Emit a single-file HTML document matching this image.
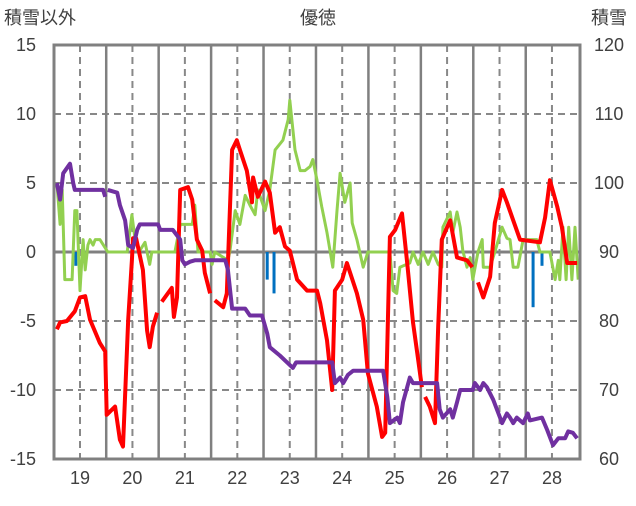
<!DOCTYPE html>
<html><head><meta charset="utf-8"><style>
body{margin:0;background:#fff;}
svg text{font-family:"Liberation Sans","Noto Sans CJK JP",sans-serif;fill:#404040;}
</style></head><body>
<svg id="c" width="636" height="501" xmlns="http://www.w3.org/2000/svg"></svg>
<script>
const xTicks=[19,20,21,22,23,24,25,26,27,28];
const leftTicks=[15,10,5,0,-5,-10,-15];
const rightTicks=[120,110,100,90,80,70,60];
const redT=[18.56,18.62,18.75,18.9,19.0,19.1,19.19,19.38,19.48,19.51,19.67,19.76,19.82,19.92,19.99,20.01,20.07,20.2,20.28,20.33,20.39,20.47,null,20.56,20.75,20.79,20.85,20.91,21.06,21.14,21.23,21.33,21.38,21.48,null,21.57,21.73,21.8,21.9,21.99,22.05,22.18,22.28,22.3,22.39,22.53,22.62,22.72,22.81,22.91,23.0,23.14,23.33,23.52,23.58,23.71,23.81,23.86,24.0,24.09,24.28,24.4,24.49,24.66,24.76,24.82,24.91,25.01,25.14,25.24,25.35,25.43,25.52,null,25.58,25.67,25.77,25.83,25.9,26.0,26.06,26.19,26.38,26.48,null,26.59,26.69,26.82,26.91,27.05,27.14,27.26,27.39,27.77,27.87,27.96,28.1,28.19,28.29,28.48];
const redV=[-5.6,-5.1,-5.0,-4.3,-3.3,-3.2,-4.9,-6.6,-7.2,-11.8,-11.2,-13.6,-14.1,-4.9,-0.6,1.0,1.0,-1.3,-5.7,-6.9,-5.4,-4.4,null,-3.6,-2.6,-4.7,-3.3,4.5,4.7,3.8,0.9,0.1,-1.5,-3.0,null,-3.5,-4.0,-3.0,7.4,8.1,7.4,5.9,3.6,5.4,4.0,5.1,4.3,1.4,1.8,0.4,0.1,-2.0,-2.8,-2.8,-3.7,-6.4,-10,-2.8,-2.0,-0.8,-3.0,-4.9,-8.8,-11.2,-13.4,-13.1,1.1,1.6,2.8,-0.8,-5.1,-7.3,-9.8,null,-10.5,-11.2,-12.4,-5.4,0.9,1.8,2.3,-0.4,-0.6,-1.1,null,-2.2,-3.3,-1.8,2.1,4.5,3.6,2.3,0.9,0.7,2.5,5.2,3.3,1.8,-0.8,-0.8];
const greenT=[18.56,18.62,18.66,18.71,18.85,18.9,18.94,19.0,19.06,19.1,19.15,19.19,19.25,19.29,19.38,19.53,19.9,19.99,20.05,20.14,20.24,20.33,20.37,20.81,20.91,21.14,21.19,21.25,21.48,21.52,21.57,21.82,21.86,21.96,22.05,22.15,22.24,22.34,22.39,22.53,22.62,22.72,22.87,22.97,23.0,23.1,23.2,23.29,23.39,23.44,23.52,23.61,23.71,23.82,23.9,23.96,24.05,24.15,24.19,24.28,24.4,24.49,24.91,24.97,25.04,25.1,25.29,25.35,25.45,25.54,25.64,25.73,25.83,25.9,25.92,26.06,26.11,26.19,26.25,26.3,26.38,26.44,26.49,26.59,26.67,26.69,26.82,26.91,27.05,27.14,27.2,27.26,27.35,27.45,27.71,27.77,27.96,28.06,28.12,28.15,28.21,28.27,28.32,28.38,28.44,28.5];
const greenV=[5,2,4.5,-2,-2,3,3,-2.8,0.9,-1.3,0.5,0.9,0.5,0.9,0.9,0,0,2.7,0.9,0.1,0.7,-0.9,0,0,2,2,3.4,0,0,-0.9,0,-0.6,0.1,3,2,4.1,3.4,2.7,4.5,3,4.5,7.4,8.1,9.6,11,7.4,5.9,5.9,6.2,6.7,5.2,3.3,1.4,-1.1,3,5.7,3.6,5,2.1,0.9,-1.1,0,0,-2.8,-3,-1.1,-0.8,0,-0.9,0,-0.9,0,-0.9,-1.1,1.8,2.9,1.4,2.9,1.8,0.1,-1.1,-0.4,-2,0,0.9,-1.1,-1.1,0,1.8,1,0.9,-1.1,-1.1,0.9,0.9,0,0,-2,-0.6,-2,1.8,-2,1.8,-2,1.8,-2];
const purpleT=[18.56,18.62,18.68,18.81,18.87,18.9,19.44,19.48,null,19.53,19.71,19.76,19.86,19.92,20.01,20.09,20.14,20.49,20.53,20.77,20.91,20.95,21.0,21.1,21.19,21.77,21.82,21.9,22.15,22.24,22.47,22.57,22.62,22.81,22.95,23.06,23.12,23.81,23.86,23.96,24.02,24.11,24.21,24.78,24.86,24.91,25.05,25.1,25.16,25.29,25.35,25.81,25.86,25.92,26.06,26.11,26.19,26.25,26.49,26.53,26.63,26.69,26.76,26.88,27.05,27.14,27.2,27.26,27.33,27.45,27.54,27.58,27.81,27.91,28.02,28.12,28.25,28.31,28.4,28.48];
const purpleV=[5,3.8,5.7,6.4,5,4.5,4.5,4,null,4.5,4.3,3.4,2.3,0.5,0.3,1.6,2,2,1.6,1.6,0.9,-0.6,-0.9,-0.7,-0.6,-0.6,-1.3,-4.1,-4.1,-4.6,-4.6,-5.9,-6.9,-7.5,-8,-8.4,-8,-8,-9.5,-9.1,-9.5,-8.9,-8.6,-8.6,-10.5,-12.4,-12,-12.4,-10.9,-9.1,-9.5,-9.5,-11.4,-12,-11.4,-12,-10.9,-10,-10,-9.5,-10,-9.5,-9.8,-10.7,-12.4,-11.7,-12,-12.4,-12,-12.4,-11.7,-12.2,-12,-12.9,-14,-13.5,-13.5,-13,-13.1,-13.5];
const barT=[18.92,22.57,22.7,27.64,27.81];
const barV=[-1,-2,-3,-4,-1];

const L=54,R=580,T=45,B=459;
const xs=d=>80+(d-19)*52.44;
const ys=v=>252-v*13.8;
const svg=document.getElementById('c');
const NS='http://www.w3.org/2000/svg';
function mk(tag,attrs,parent){const e=document.createElementNS(NS,tag);for(const k in attrs)e.setAttribute(k,attrs[k]);(parent||svg).appendChild(e);return e;}

const grid=mk('g',{});


leftTicks.forEach(v=>{if(v===15||v===-15)return;
  const ln=mk('line',{x1:L,x2:R,y1:ys(v),y2:ys(v),stroke:v===0?'#808080':'#888','stroke-width':v===0?3:2,'stroke-dasharray':v===0?'':'7,5'},grid);
  
  
});
xTicks.forEach(d=>{
  const a=mk('line',{x1:xs(d),x2:xs(d),y1:T,y2:B,stroke:'#888','stroke-width':2,'stroke-dasharray':'7,5'},grid);
  
  
  if(d<28){const b=mk('line',{x1:xs(d+0.5),x2:xs(d+0.5),y1:T,y2:B,stroke:'#808080','stroke-width':2.5},grid);
  
  }
});
barT.forEach((d,i)=>{
  const r=mk('rect',{x:xs(d)-1.5,y:ys(0),width:3,height:ys(barV[i])-ys(0),fill:'#0070c0'});
  
  
});
function line(T_,V_,col,w,name){
  let d='',pen=false;
  T_.forEach((t,i)=>{if(t===null||V_[i]===null){pen=false;return;}
    d+=(pen?'L':'M')+xs(t).toFixed(1)+','+ys(V_[i]).toFixed(1);pen=true;});
  const p=mk('path',{d:d,fill:'none',stroke:col,'stroke-width':w,'stroke-linejoin':'round'});
  
  
}
line(greenT,greenV,'#92d050',3,'green-series-line');
line(redT,redV,'#ff0000',4,'red-series-line');
line(purpleT,purpleV,'#7030a0',4,'purple-series-line');
const f=mk('rect',{x:L,y:T,width:R-L,height:B-T,fill:'none',stroke:'#808080','stroke-width':3});


leftTicks.forEach(v=>{const t=mk('text',{x:36,y:ys(v)+6,'text-anchor':'end','font-size':18});t.textContent=v;
  
  });
rightTicks.forEach((v,i)=>{const t=mk('text',{x:609,y:ys(leftTicks[i])+6,'text-anchor':'middle','font-size':18});t.textContent=v;
  
  });
xTicks.forEach(d=>{const t=mk('text',{x:xs(d),y:484,'text-anchor':'middle','font-size':18});t.textContent=d;
  
  });
const t1=mk('text',{x:4,y:24,'font-size':18});t1.textContent='積雪以外';


const t2=mk('text',{x:318,y:24,'font-size':18,'text-anchor':'middle'});t2.textContent='優徳';


const t3=mk('text',{x:609,y:24,'font-size':18,'text-anchor':'middle'});t3.textContent='積雪';


</script>
</body></html>
